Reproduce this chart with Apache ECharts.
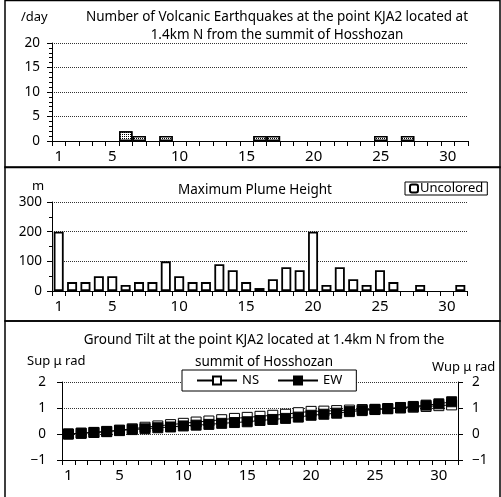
<!DOCTYPE html>
<html><head><meta charset="utf-8">
<script src="https://cdn.jsdelivr.net/npm/echarts@6/dist/echarts.min.js"></script>
<style>html,body{margin:0;padding:0;background:#fff}#c{width:501px;height:497px}</style>
</head><body><div id="c"></div>
<script>
var days = [];
for (var d = 1; d <= 31; d++) days.push(String(d));
var quakeCounts = [null,null,null,null,null,2,1,null,1,null,null,null,null,null,null,1,1,null,null,null,null,null,null,null,1,null,1,null,null,null,null];
var plumeHeights = [200,30,30,50,50,20,30,30,100,50,30,30,90,70,30,10,40,80,70,200,20,80,40,20,70,30,null,20,null,null,20];
var tiltNS = [0,0.03,0.06,0.1,0.15,0.2,0.26,0.31,0.36,0.41,0.46,0.5,0.55,0.6,0.64,0.68,0.72,0.76,0.82,0.87,0.88,0.9,0.92,0.94,0.95,0.97,1.0,1.03,1.06,1.09,1.12];
var tiltEW = [0,0.03,0.06,0.09,0.13,0.17,0.2,0.24,0.27,0.31,0.34,0.37,0.41,0.44,0.47,0.52,0.56,0.6,0.65,0.72,0.76,0.8,0.86,0.9,0.94,0.98,1.02,1.06,1.11,1.16,1.24];

var FONT = '"Noto Sans", "Noto Sans CJK JP", sans-serif';
var chart = echarts.init(document.getElementById('c'), null, {renderer: 'canvas'});

function xAx(gi) {
  return {
    type: 'category', gridIndex: gi, data: days,
    axisLine: {onZero: false, lineStyle: {color: '#000', width: 1}},
    axisTick: {show: true, interval: 0, length: 5, inside: false, lineStyle: {color: '#000'}},
    axisLabel: {
      interval: function (i, v) { return v === '1' || (+v) % 5 === 0; },
      color: '#000', fontSize: 15, fontFamily: FONT, margin: 8
    },
    splitLine: {show: false}
  };
}
function yAx(gi, min, max, interval, minorSplit, pos, margin) {
  return {
    type: 'value', gridIndex: gi, min: min, max: max, interval: interval, position: pos || 'left',
    axisLine: {show: true, lineStyle: {color: '#000', width: 1}},
    axisTick: {show: true, length: 5, lineStyle: {color: '#000'}},
    minorTick: {show: !!minorSplit, splitNumber: minorSplit || 5, length: 3, lineStyle: {color: '#000'}},
    axisLabel: {color: '#000', fontSize: 13.5, fontFamily: FONT, margin: margin || 8,
      formatter: function (v) { return String(v).replace('-', '\u2212'); }},
    splitLine: {show: true, lineStyle: {color: '#333', type: [1, 1], width: 1}}
  };
}

var option = {
  animation: false,
  textStyle: {fontFamily: FONT},
  title: [
    {text: 'Number of Volcanic Earthquakes at the point KJA2 located at\n1.4km N from the summit of Hosshozan',
     left: 272, top: 3, textAlign: 'center',
     textStyle: {fontSize: 13.5, fontWeight: 'normal', color: '#000', lineHeight: 18, fontFamily: FONT}},
    {text: 'Maximum Plume Height', left: 250, top: 178, textAlign: 'center',
     textStyle: {fontSize: 13.5, fontWeight: 'normal', color: '#000', fontFamily: FONT}},
    {text: 'Ground Tilt at the point KJA2 located at 1.4km N from the\nsummit of Hosshozan',
     left: 259, top: 324, textAlign: 'center',
     textStyle: {fontSize: 13.5, fontWeight: 'normal', color: '#000', lineHeight: 22, fontFamily: FONT}}
  ],
  legend: [
    {data: ['Uncolored'], left: 405, top: 182, itemWidth: 8, itemHeight: 8,
     borderColor: '#000', borderWidth: 1, borderRadius: 0, padding: [0, 4, 0, 4],
     backgroundColor: '#fff',
     textStyle: {fontSize: 13, color: '#000', fontFamily: FONT, padding: [0, 0, 0, -3]}},
    {data: ['NS', 'EW'], left: 182, top: 370, itemWidth: 40, itemHeight: 10, itemGap: 18,
     borderColor: '#000', borderWidth: 1, borderRadius: 0, padding: [4, 14, 4, 14],
     backgroundColor: '#fff',
     textStyle: {fontSize: 13, color: '#000', fontFamily: FONT}}
  ],
  grid: [
    {left: 52, right: 33, top: 43, height: 98},
    {left: 52, right: 34, top: 202, height: 89},
    {left: 62, right: 43, top: 382, height: 78}
  ],
  xAxis: [xAx(0), xAx(1), xAx(2)],
  yAxis: [
    yAx(0, 0, 20, 5, 5, 'left', 12),
    yAx(1, 0, 300, 100, 2, 'left', 10),
    yAx(2, -1, 2, 1, 0, 'left', 16),
    (function () { var a = yAx(2, -1, 2, 1, 0, 'right', 14); a.splitLine = {show: false}; return a; })()
  ],
  series: [
    {type: 'bar', name: 'Earthquakes', xAxisIndex: 0, yAxisIndex: 0, data: quakeCounts,
     barCategoryGap: '0%',
     itemStyle: {color: '#fff', borderColor: '#000', borderWidth: 1.5,
       decal: {symbol: 'rect', symbolSize: 1, color: '#000', backgroundColor: '#fff',
               dashArrayX: [1, 1], dashArrayY: [1, 1], rotation: 0}}},
    {type: 'bar', name: 'Uncolored', xAxisIndex: 1, yAxisIndex: 1, data: plumeHeights,
     barWidth: 10,
     itemStyle: {color: '#fff', borderColor: '#000', borderWidth: 1.8}},
    {type: 'line', name: 'NS', xAxisIndex: 2, yAxisIndex: 2, data: tiltNS,
     symbol: 'rect', symbolSize: 10, showAllSymbol: true,
     lineStyle: {color: '#000', width: 1},
     itemStyle: {color: '#fff', borderColor: '#000', borderWidth: 1}},
    {type: 'line', name: 'EW', xAxisIndex: 2, yAxisIndex: 2, data: tiltEW,
     symbol: 'rect', symbolSize: 10, showAllSymbol: true,
     lineStyle: {color: '#000', width: 1},
     itemStyle: {color: '#000', borderColor: '#000', borderWidth: 1}}
  ],
  graphic: [
    {type: 'rect', shape: {x: 5, y: 0.5, width: 495, height: 167}, style: {fill: 'none', stroke: '#000', lineWidth: 1.5}, z: 100},
    {type: 'rect', shape: {x: 5, y: 167, width: 495, height: 154}, style: {fill: 'none', stroke: '#000', lineWidth: 1.5}, z: 100},
    {type: 'rect', shape: {x: 5, y: 321, width: 495, height: 180}, style: {fill: 'none', stroke: '#000', lineWidth: 1.5}, z: 100},
    {type: 'text', left: 21, top: 11, style: {text: '/day', fill: '#000', font: '13px "Noto Sans"'}},
    {type: 'text', left: 32, top: 180, style: {text: 'm', fill: '#000', font: '13px "Noto Sans"'}},
    {type: 'text', left: 27, top: 355, style: {text: 'Sup \u03bc rad', fill: '#000', font: '13px "Noto Sans"'}},
    {type: 'text', left: 432, top: 361, style: {text: 'Wup \u03bc rad', fill: '#000', font: '13px "Noto Sans"'}}
  ]
};
chart.setOption(option);
</script>
</body></html>
